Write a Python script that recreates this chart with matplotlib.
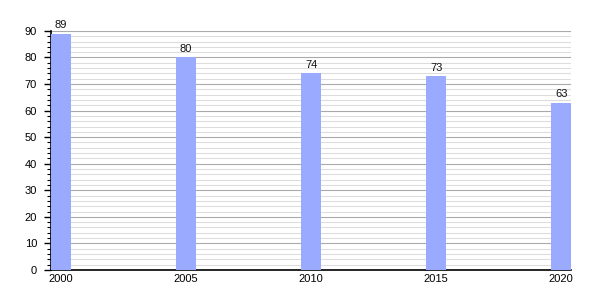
import matplotlib
matplotlib.use("Agg")
import matplotlib.pyplot as plt
from matplotlib.ticker import MultipleLocator

years = [2000, 2005, 2010, 2015, 2020]
values = [89, 80, 74, 73, 63]

plt.rcParams["font.family"] = ["Liberation Sans", "DejaVu Sans"]

fig = plt.figure(figsize=(6, 3), dpi=100)
ax = fig.add_axes([0.085, 0.1, 0.867, 0.797])

ax.bar(years, values, width=0.8, color="#99aaff", zorder=3)
for x, v in zip(years, values):
    ax.text(x, v + 1.2, str(v), ha="center", va="bottom", fontsize=8, color="#111111")

ax.set_xlim(1999.6, 2020.4)
ax.set_ylim(0, 90)
ax.set_xticks(years)
ax.set_xticklabels([str(y) for y in years])
ax.yaxis.set_major_locator(MultipleLocator(10))
ax.yaxis.set_minor_locator(MultipleLocator(2))

ax.grid(axis="y", which="major", color="#aaaaaa", linewidth=0.8, zorder=1)
ax.grid(axis="y", which="minor", color="#dddddd", linewidth=0.8, zorder=1)
ax.grid(axis="x", visible=False)

for s in ["top", "right"]:
    ax.spines[s].set_visible(False)
ax.spines["left"].set_linewidth(1.2)
ax.spines["bottom"].set_linewidth(1.2)

ax.tick_params(axis="y", which="major", length=5, width=1, labelsize=8, pad=5)
ax.tick_params(axis="y", which="minor", length=3, width=0.8)
ax.tick_params(axis="x", length=0, labelsize=8, pad=3)

fig.savefig("out.png", dpi=100)
